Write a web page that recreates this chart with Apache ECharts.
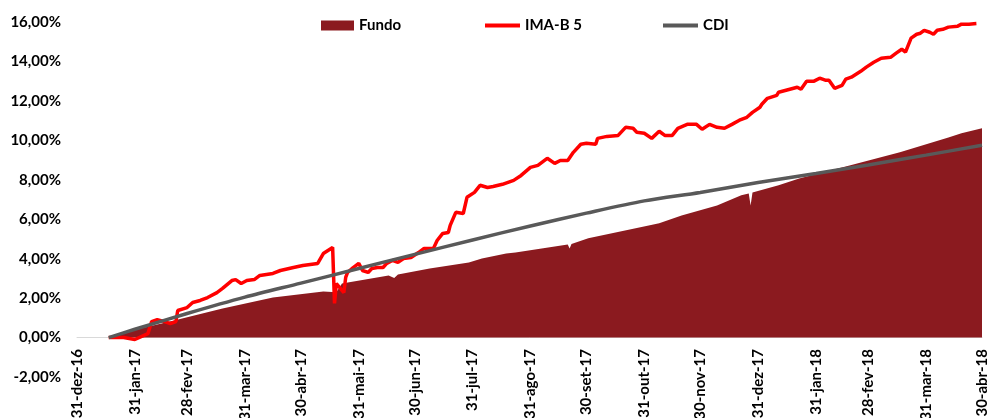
<!DOCTYPE html>
<html>
<head>
<meta charset="utf-8">
<script src="https://cdn.jsdelivr.net/npm/echarts@6/dist/echarts.min.js"></script>
<style>
  html, body { margin: 0; padding: 0; background: #fff; }
  #chart { width: 989px; height: 418px; }
</style>
</head>
<body>
<div id="chart"></div>
<script>
// rentabilidade acumulada (%)
const tickDates = ['2016-12-31','2017-01-31','2017-02-28','2017-03-31','2017-04-30','2017-05-31','2017-06-30',
  '2017-07-31','2017-08-31','2017-09-30','2017-10-31','2017-11-30','2017-12-31','2018-01-31','2018-02-28',
  '2018-03-31','2018-04-30']
const tickLabels = ['31-dez-16','31-jan-17','28-fev-17','31-mar-17','30-abr-17','31-mai-17','30-jun-17',
  '31-jul-17','31-ago-17','30-set-17','31-out-17','30-nov-17','31-dez-17','31-jan-18','28-fev-18',
  '31-mar-18','30-abr-18']

const fundo = [
  ['2017-01-17',0],['2017-02-03',0.46],['2017-02-21',0.86],['2017-03-19',1.47],['2017-04-15',2.03],
  ['2017-05-12',2.34],['2017-05-19',2.30],['2017-05-22',2.74],['2017-06-16',3.15],['2017-06-19',3.02],
  ['2017-06-21',3.20],['2017-07-08',3.50],['2017-07-29',3.81],['2017-08-05',4.01],['2017-08-18',4.26],
  ['2017-08-23',4.31],['2017-09-20',4.72],['2017-09-21',4.52],['2017-09-22',4.75],['2017-10-01',5.03],
  ['2017-11-03',5.69],['2017-11-08',5.79],['2017-11-20',6.19],['2017-12-09',6.70],['2017-12-22',7.21],
  ['2017-12-26',7.30],['2017-12-27',6.70],['2017-12-28',7.36],['2018-01-11',7.72],['2018-01-22',8.07],
  ['2018-02-18',8.73],['2018-03-17',9.39],['2018-04-12',10.15],['2018-04-19',10.36],['2018-04-30',10.61]
]

const imaB5 = [
  ['2017-01-17',0],['2017-01-18',0],['2017-01-25',0],['2017-01-31',-0.10],['2017-02-07',0.20],
  ['2017-02-09',0.81],['2017-02-12',0.91],['2017-02-16',0.81],['2017-02-19',0.71],['2017-02-22',0.81],
  ['2017-02-23',1.37],['2017-02-28',1.52],['2017-03-03',1.78],['2017-03-07',1.88],['2017-03-11',2.03],
  ['2017-03-16',2.28],['2017-03-19',2.49],['2017-03-24',2.89],['2017-03-26',2.94],['2017-03-29',2.74],
  ['2017-04-01',2.89],['2017-04-05',2.94],['2017-04-08',3.15],['2017-04-15',3.25],['2017-04-19',3.40],
  ['2017-04-26',3.55],['2017-05-01',3.65],['2017-05-09',3.76],['2017-05-12',4.26],['2017-05-17',4.57],
  ['2017-05-18',1.73],['2017-05-19',2.74],['2017-05-22',2.39],['2017-05-23',2.28],['2017-05-24',3.05],
  ['2017-05-25',3.30],['2017-05-28',3.55],['2017-05-31',3.76],['2017-06-02',3.40],['2017-06-05',3.30],
  ['2017-06-07',3.50],['2017-06-10',3.55],['2017-06-13',3.55],['2017-06-15',3.76],['2017-06-18',3.91],
  ['2017-06-21',3.81],['2017-06-24',4.01],['2017-06-28',4.06],['2017-07-02',4.31],['2017-07-05',4.52],
  ['2017-07-10',4.52],['2017-07-12',4.92],['2017-07-15',5.28],['2017-07-18',5.33],['2017-07-19',5.69],
  ['2017-07-22',6.35],['2017-07-26',6.29],['2017-07-28',7.11],['2017-08-01',7.36],['2017-08-04',7.72],
  ['2017-08-08',7.61],['2017-08-11',7.66],['2017-08-16',7.77],['2017-08-22',7.97],['2017-08-26',8.22],
  ['2017-08-31',8.63],['2017-09-04',8.73],['2017-09-09',9.09],['2017-09-13',8.83],['2017-09-16',8.98],
  ['2017-09-20',8.98],['2017-09-23',9.39],['2017-09-27',9.80],['2017-09-30',9.85],['2017-10-05',9.80],
  ['2017-10-06',10.10],['2017-10-11',10.20],['2017-10-17',10.25],['2017-10-21',10.66],['2017-10-25',10.61],
  ['2017-10-27',10.41],['2017-10-31',10.36],['2017-11-04',10.10],['2017-11-08',10.46],['2017-11-11',10.25],
  ['2017-11-15',10.25],['2017-11-18',10.61],['2017-11-23',10.81],['2017-11-28',10.81],['2017-12-01',10.56],
  ['2017-12-05',10.81],['2017-12-09',10.66],['2017-12-13',10.61],['2017-12-17',10.81],['2017-12-21',11.02],
  ['2017-12-25',11.17],['2017-12-28',11.42],['2018-01-01',11.68],['2018-01-02',11.83],['2018-01-05',12.13],
  ['2018-01-10',12.28],['2018-01-11',12.44],['2018-01-17',12.59],['2018-01-21',12.69],['2018-01-23',12.59],
  ['2018-01-26',13.00],['2018-01-30',13.00],['2018-02-02',13.15],['2018-02-05',13.05],['2018-02-07',13.05],
  ['2018-02-10',12.64],['2018-02-14',12.79],['2018-02-16',13.10],['2018-02-19',13.20],['2018-02-24',13.50],
  ['2018-02-27',13.71],['2018-03-03',13.96],['2018-03-07',14.16],['2018-03-12',14.21],['2018-03-15',14.42],
  ['2018-03-18',14.62],['2018-03-20',14.47],['2018-03-21',14.42],['2018-03-23',15.18],['2018-03-26',15.38],
  ['2018-03-28',15.43],['2018-03-30',15.58],['2018-04-02',15.48],['2018-04-04',15.38],['2018-04-06',15.58],
  ['2018-04-09',15.63],['2018-04-12',15.74],['2018-04-17',15.79],['2018-04-19',15.89],['2018-04-23',15.89],
  ['2018-04-27',15.92]
]

const cdi = [
  ['2017-01-17',0],['2017-01-31',0.42],['2017-02-28',1.22],['2017-03-31',2.05],['2017-04-30',2.76],
  ['2017-05-31',3.50],['2017-06-30',4.22],['2017-07-31',4.95],['2017-08-31',5.66],['2017-09-30',6.31],
  ['2017-10-31',6.93],['2017-11-30',7.36],['2017-12-31',7.86],['2018-01-31',8.32],['2018-02-28',8.75],
  ['2018-03-31',9.25],['2018-04-30',9.75]
]

const ORIGIN = Date.UTC(2016, 11, 31)
function toDay(s){
  let [y,m,d]=s.split('-').map(Number)
  return Math.round((Date.UTC(y,m-1,d)-ORIGIN)/86400000)
}
const tickDays = tickDates.map(toDay)
const toPoints = arr => arr.map(p => [toDay(p[0]), p[1]])

const font = 'Lato, "Liberation Sans", sans-serif'
const legendText = {color:'#000', fontWeight:'bold', fontSize:15, fontFamily:font}

let chart = echarts.init(document.getElementById('chart'), null, {renderer:'canvas'})
chart.setOption({
  animation:false,
  grid:{left:77, right:7, top:22, bottom:41, outerBoundsMode:'none', containLabel:false},
  legend:[
    {left:316, top:13, itemWidth:33, itemHeight:10, textStyle:legendText,
      data:[{name:'Fundo', icon:'rect'}]},
    {left:480, top:13, itemWidth:35, itemHeight:4, textStyle:legendText,
      data:[{name:'IMA-B 5', icon:'rect'}]},
    {left:658, top:13, itemWidth:35, itemHeight:4, textStyle:legendText,
      data:[{name:'CDI', icon:'rect'}]}
  ],
  xAxis:{
    type:'value',
    min:0,
    max:toDay('2018-04-30'),
    splitLine:{show:false},
    axisTick:{show:false},
    axisLine:{show:true, onZero:true, lineStyle:{color:'#d9d9d9', width:1}},
    axisLabel:{
      customValues:tickDays,
      rotate:90,
      margin:-28,
      color:'#000',
      fontWeight:'bold',
      fontSize:15,
      fontFamily:font,
      formatter:function(v){
        let i=tickDays.indexOf(Math.round(v))
        return i>=0?tickLabels[i]:''
      }
    }
  },
  yAxis:{
    type:'value',
    min:-2,
    max:16,
    interval:2,
    splitLine:{show:false},
    axisTick:{show:false},
    axisLine:{show:false},
    axisLabel:{
      margin:16,
      color:'#000',
      fontWeight:'bold',
      fontSize:15,
      fontFamily:font,
      formatter:v=>v.toFixed(2).replace('.',',')+'%'
    }
  },
  series:[
    {
      name:'Fundo',
      type:'line',
      data:toPoints(fundo),
      showSymbol:false,
      symbol:'none',
      itemStyle:{color:'#8b1a1f'},
      lineStyle:{width:0},
      areaStyle:{color:'#8b1a1f', opacity:1}
    },
    {
      name:'IMA-B 5',
      type:'line',
      data:toPoints(imaB5),
      showSymbol:false,
      symbol:'none',
      itemStyle:{color:'#ff0000'},
      lineStyle:{color:'#ff0000', width:3.5}
    },
    {
      name:'CDI',
      type:'line',
      data:toPoints(cdi),
      showSymbol:false,
      symbol:'none',
      smooth:0.3,
      itemStyle:{color:'#595959'},
      lineStyle:{color:'#595959', width:3.5}
    }
  ]
})
</script>
</body>
</html>
